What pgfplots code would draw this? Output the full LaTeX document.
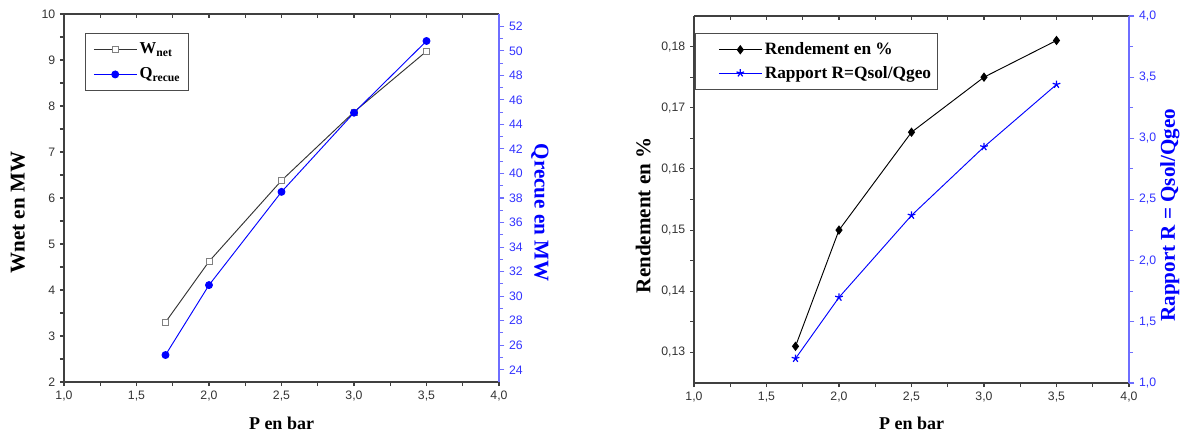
\documentclass[border=0pt]{standalone}
\usepackage{fontspec}
\setmainfont{Liberation Serif}
\newfontfamily\arial{Liberation Sans}
\usepackage{pgfplots}
\pgfplotsset{compat=1.18}
\definecolor{axblue}{RGB}{110,110,255}
\definecolor{lblue}{RGB}{50,50,255}

\pgfplotsset{
  base/.style={
    scale only axis, width=326.25pt,
    xmin=1, xmax=4, xtick={1,1.5,2,2.5,3,3.5,4}, minor x tick num=1,
    /pgf/number format/assume math mode=true,
    /pgf/number format/use comma,
    x tick label style={/pgf/number format/fixed, /pgf/number format/fixed zerofill, /pgf/number format/precision=1},
    tick label style={font=\arial\fontsize{9.2}{11}\selectfont, text=black!80},
    major tick length=3pt, minor tick length=3pt, tick align=outside,
    xlabel style={font=\bfseries\fontsize{13.5}{16}\selectfont},
    ylabel style={font=\bfseries\fontsize{15.8}{18}\selectfont},
    axis line style={black!75, line width=0.9pt},
    tick style={black!75, line width=0.8pt},
    clip=false,
  },
  topticks/.style={
    scale only axis, width=326.25pt,
    xmin=1, xmax=4, ymin=0, ymax=1,
    xtick={1,1.5,2,2.5,3,3.5,4}, minor x tick num=1, xticklabels={},
    axis x line*=top, axis y line=none, tick align=inside,
    major tick length=3pt, minor tick length=3pt,
    axis line style={black!75, line width=0.9pt},
    tick style={black!75, line width=0.8pt},
  },
  leg/.style={
    legend cell align=left,
    legend image code/.code={
      \path (-#1,0pt);
      \draw[mark repeat=2,mark phase=2] plot coordinates {(0pt,0pt) (16pt,0pt) (32pt,0pt)};},
  },
}

\begin{document}
\begin{tikzpicture}
\useasboundingbox (0,0) rectangle (885.75pt,327pt);

% ---------- left chart ----------
\begin{axis}[base, at={(48pt,40.5pt)}, height=276pt,
  ymin=2, ymax=10, ytick={2,3,...,10}, minor y tick num=1,
  axis x line*=bottom, axis y line*=left,
  xlabel={P en bar}, ylabel={Wnet en MW},
  xlabel style={at={(axis description cs:0.5,-0.111)}, anchor=center},
  ylabel style={at={(axis description cs:-0.106,0.46)}, anchor=center},
]
\addplot[black!80, line width=0.7pt, mark=square*, mark size=2.2pt,
  mark options={fill=white, draw=black!50, line width=0.6pt}]
  coordinates {(1.7,3.30) (2.0,4.62) (2.5,6.38) (3.0,7.87) (3.5,9.19)};
\end{axis}

\begin{axis}[topticks, at={(48pt,40.5pt)}, height=276pt]
\end{axis}

\begin{axis}[base, at={(48pt,40.5pt)}, height=276pt,
  ymin=23, ymax=53, ytick={24,26,...,52}, minor y tick num=1,
  axis y line*=right, axis x line=none,
  y axis line style={axblue, line width=0.9pt},
  ytick style={axblue, line width=0.8pt},
  yticklabel style={text=lblue},
  major tick length=4pt,
  ylabel={Qrecue en MW},
  ylabel style={blue, rotate=180, at={(axis description cs:1.094,0.46)}, anchor=center},
  leg=2pt,
  legend style={at={(axis description cs:0.048,0.948)}, anchor=north west,
    draw=black!70, line width=0.8pt, font=\bfseries\fontsize{12.5}{14}\selectfont,
    inner xsep=4pt, inner ysep=5pt, row sep=5pt},
]
\addlegendimage{black!80, line width=0.7pt, mark=square*, mark size=2.2pt,
  mark options={fill=white, draw=black!50, line width=0.6pt}}
\addlegendentry{W\textsubscript{net}}
\addplot[blue, line width=0.7pt, mark=*, mark size=2.6pt, mark options={fill=blue}]
  coordinates {(1.7,25.2) (2.0,30.9) (2.5,38.5) (3.0,44.95) (3.5,50.8)};
\addlegendentry{Q\textsubscript{recue}}
\end{axis}

% ---------- right chart ----------
\begin{axis}[base, at={(520.5pt,39.75pt)}, height=275.25pt,
  ymin=0.125, ymax=0.185, ytick={0.13,0.14,0.15,0.16,0.17,0.18}, minor y tick num=1,
  y tick label style={/pgf/number format/fixed, /pgf/number format/fixed zerofill, /pgf/number format/precision=2},
  axis x line*=bottom, axis y line*=left,
  xlabel={P en bar}, ylabel={Rendement en \%},
  xlabel style={at={(axis description cs:0.5,-0.111)}, anchor=center},
  ylabel style={at={(axis description cs:-0.117,0.457)}, anchor=center},
]
\addplot[black, line width=0.7pt, mark=diamond*, mark size=3pt, mark options={fill=black}]
  coordinates {(1.7,0.131) (2.0,0.150) (2.5,0.166) (3.0,0.175) (3.5,0.181)};
\end{axis}

\begin{axis}[topticks, at={(520.5pt,39.75pt)}, height=275.25pt]
\end{axis}

\begin{axis}[base, at={(520.5pt,39.75pt)}, height=275.25pt,
  ymin=1, ymax=4, ytick={1,1.5,2,2.5,3,3.5,4}, minor y tick num=1,
  y tick label style={/pgf/number format/fixed, /pgf/number format/fixed zerofill, /pgf/number format/precision=1},
  axis y line*=right, axis x line=none,
  y axis line style={axblue, line width=0.9pt},
  ytick style={axblue, line width=0.8pt},
  yticklabel style={text=lblue},
  major tick length=4pt,
  ylabel={Rapport R = Qsol/Qgeo},
  ylabel style={blue, at={(axis description cs:1.094,0.457)}, anchor=center},
  leg=14pt,
  legend style={at={(axis description cs:0.003,0.954)}, anchor=north west,
    draw=black!70, line width=0.8pt, font=\bfseries\fontsize{13}{15}\selectfont,
    inner xsep=3pt, inner ysep=5pt, row sep=3pt},
]
\addlegendimage{black, line width=0.7pt, mark=diamond*, mark size=3pt, mark options={fill=black}}
\addlegendentry{Rendement en \%}
\addplot[blue, line width=0.7pt, mark=star, mark size=3pt, mark options={fill=blue, line width=0.9pt}]
  coordinates {(1.7,1.20) (2.0,1.70) (2.5,2.37) (3.0,2.93) (3.5,3.44)};
\addlegendentry{Rapport R=Qsol/Qgeo}
\end{axis}
\end{tikzpicture}
\end{document}
